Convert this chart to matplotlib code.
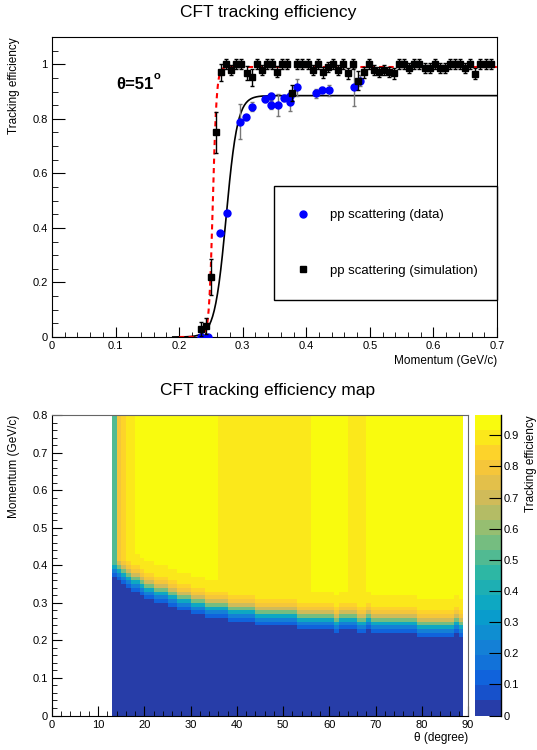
import numpy as np
import matplotlib
matplotlib.use('Agg')
import matplotlib.pyplot as plt
from matplotlib.colors import LinearSegmentedColormap, ListedColormap, BoundaryNorm
from matplotlib.lines import Line2D
from matplotlib.ticker import MultipleLocator, FormatStrFormatter

plt.rcParams['font.family'] = ['Liberation Sans', 'DejaVu Sans']

# ---------------- upper pad: efficiency vs momentum (theta = 51 deg)
sim_p = np.round(0.234 + 0.008 * np.arange(58), 3)
sim_eff = [0.03, 0.04, 0.22, 0.75, 0.97, 1.0, 0.98, 1.0, 1.0, 0.967,
           0.952, 1.0, 0.98, 1.0, 1.0, 0.973, 1.0, 1.0, 0.894, 1.0,
           1.0, 1.0, 0.98, 1.0, 0.97, 0.99, 1.0, 0.98, 1.0, 0.967,
           1.0, 0.94, 0.97, 1.0, 0.98, 0.973, 0.98, 0.973, 0.967, 1.0,
           1.0, 0.986, 1.0, 1.0, 0.986, 0.986, 1.0, 0.986, 0.986, 1.0,
           1.0, 1.0, 0.986, 1.0, 0.965, 1.0, 1.0, 1.0]
sim_err = [0.025, 0.03, 0.065, 0.075, 0.03, 0.018, 0.018, 0.018, 0.018, 0.025,
           0.03, 0.018, 0.018, 0.018, 0.018, 0.02, 0.018, 0.018, 0.03, 0.018,
           0.018, 0.018, 0.018, 0.018, 0.02, 0.018, 0.018, 0.018, 0.018, 0.02,
           0.018, 0.036, 0.02, 0.018, 0.018, 0.018, 0.018, 0.018, 0.02, 0.018,
           0.018, 0.018, 0.018, 0.018, 0.018, 0.018, 0.018, 0.018, 0.018, 0.018,
           0.018, 0.018, 0.018, 0.018, 0.02, 0.018, 0.018, 0.018]

data_p = [0.235, 0.245, 0.265, 0.275, 0.295, 0.305, 0.315, 0.335, 0.345, 0.345,
          0.355, 0.365, 0.375, 0.375, 0.385, 0.415, 0.425, 0.435, 0.475, 0.485]
data_eff = [0.0, 0.0, 0.38, 0.455, 0.79, 0.805, 0.845, 0.872, 0.882, 0.85,
            0.85, 0.877, 0.882, 0.862, 0.915, 0.893, 0.905, 0.905, 0.918, 0.94]
data_err = [0.0, 0.0, 0.0, 0.0, 0.063, 0.01, 0.018, 0.01, 0.012, 0.015,
            0.04, 0.01, 0.01, 0.035, 0.03, 0.015, 0.01, 0.02, 0.07, 0.02]

# fitted turn-on curves: plateau, midpoint, width
fit_data = (0.885, 0.274, 0.009)
fit_sim = (0.99, 0.253, 0.003)

# ---------------- lower pad: efficiency map (theta, momentum)
theta_edges = np.arange(13, 90)
mom_edges = np.linspace(0, 0.8, 81)
# momentum where the dark (zero) region ends, per 1-degree theta bin
edge_mom = [0.37, 0.36, 0.35, 0.34, 0.33, 0.33, 0.32, 0.31, 0.31, 0.30,
            0.30, 0.30, 0.29, 0.29, 0.28, 0.28, 0.28, 0.27, 0.27, 0.27,
            0.26, 0.26, 0.26, 0.26, 0.26, 0.25, 0.25, 0.25, 0.25, 0.25,
            0.25, 0.24, 0.24, 0.24, 0.24, 0.24, 0.24, 0.24, 0.24, 0.24,
            0.23, 0.23, 0.23, 0.23, 0.23, 0.23, 0.23, 0.23, 0.22, 0.23,
            0.23, 0.23, 0.23, 0.22, 0.22, 0.23, 0.22, 0.22, 0.22, 0.22,
            0.22, 0.22, 0.22, 0.22, 0.22, 0.22, 0.21, 0.21, 0.21, 0.21,
            0.21, 0.21, 0.21, 0.21, 0.22, 0.21]
plateau_from = [13, 14, 15, 16, 18, 36, 56, 64, 68]
plateau_eff = [0.50, 0.80, 0.85, 0.89, 0.95, 0.905, 0.95, 0.905, 0.95]
# efficiency in the momentum bins just above the dark region
turn_on = [0.12, 0.22, 0.38, 0.55, 0.72, 0.80, 0.86, 0.89, 0.905, 0.915]

eff_map = np.full((len(mom_edges) - 1, len(theta_edges) - 1), 0.01)
for c, th in enumerate(theta_edges[:-1]):
    plat = plateau_eff[np.searchsorted(plateau_from, th, side='right') - 1]
    for j in range(len(mom_edges) - 1):
        k = int(round((mom_edges[j] - edge_mom[c]) / 0.01))
        if k >= 0:
            eff_map[j, c] = min(turn_on[k] if k < len(turn_on) else plat, plat)

# ROOT kBird palette, 20 contours
stops = [0, .125, .25, .375, .5, .625, .75, .875, 1]
red = [0.2082, 0.0592, 0.0780, 0.0232, 0.1802, 0.5301, 0.8186, 0.9956, 0.9764]
green = [0.1664, 0.3599, 0.5041, 0.6419, 0.7178, 0.7492, 0.7328, 0.7862, 0.9832]
blue = [0.5293, 0.8684, 0.8385, 0.7914, 0.6425, 0.4662, 0.3499, 0.1968, 0.0539]
bird = LinearSegmentedColormap.from_list('kBird', list(zip(stops, zip(red, green, blue))))
ncont = 20
zmax = 0.965
cmap = ListedColormap([bird((i + 0.99) / ncont) for i in range(ncont)])
norm = BoundaryNorm(np.linspace(0, zmax, ncont + 1), ncont)

W, H = 537, 750
fig = plt.figure(figsize=(W / 100, H / 100), dpi=100)

def box(x0, y0, x1, y1):
    return [x0 / W, 1 - y1 / H, (x1 - x0) / W, (y1 - y0) / H]

# ---------- top
ax = fig.add_axes(box(52, 37, 497, 337))
pp = np.linspace(0.19, 0.7, 400)
ax.plot(pp, fit_data[0] / (1 + np.exp(-(pp - fit_data[1]) / fit_data[2])), color='k', lw=1.2, zorder=2)
pp = np.linspace(0.2, 0.7, 400)
ax.plot(pp, fit_sim[0] / (1 + np.exp(-(pp - fit_sim[1]) / fit_sim[2])), color='red', lw=1.5,
        ls=(0, (2.5, 2)), zorder=2)
ax.errorbar(data_p, data_eff, yerr=data_err, fmt='o', ms=5, mfc='#0000ff', mec='#0000ff',
            ecolor='#777777', elinewidth=1, capsize=1.5, capthick=1, zorder=3)
ax.errorbar(sim_p, sim_eff, yerr=sim_err, fmt='s', ms=4.5, mfc='k', mec='k',
            ecolor='k', elinewidth=1, capsize=1.5, capthick=1, zorder=4)
ax.set_xlim(0, 0.7)
ax.set_ylim(0, 1.1)
ax.xaxis.set_major_locator(MultipleLocator(0.1))
ax.xaxis.set_minor_locator(MultipleLocator(0.02))
ax.yaxis.set_major_locator(MultipleLocator(0.2))
ax.yaxis.set_minor_locator(MultipleLocator(0.05))
ax.xaxis.set_major_formatter(FormatStrFormatter('%g'))
ax.yaxis.set_major_formatter(FormatStrFormatter('%g'))
ax.tick_params(which='both', direction='in', labelsize=8, top=False, right=False)
ax.tick_params(axis='x', which='major', length=7, pad=3)
ax.tick_params(axis='x', which='minor', length=3.5)
ax.tick_params(axis='y', which='major', length=9, pad=3)
ax.tick_params(axis='y', which='minor', length=4.5)
ax.set_xlabel('Momentum (GeV/c)', fontsize=8.5, ha='right', va='top')
ax.xaxis.set_label_coords(1.0, -0.06)
ax.set_ylabel('Tracking efficiency', fontsize=8.5, ha='right')
ax.yaxis.set_label_coords(-0.072, 1.0)
ax.text(0.101, 0.925, 'θ=51', fontsize=12, fontweight='bold', va='center')
ax.text(0.1595, 0.958, 'o', fontsize=8, fontweight='bold', va='center')

handles = [Line2D([], [], ls='none', marker='o', ms=5, mfc='#0000ff', mec='#0000ff'),
           Line2D([], [], ls='none', marker='s', ms=4.5, mfc='k', mec='k')]
leg = ax.legend(handles, ['pp scattering (data)', 'pp scattering (simulation)'],
                loc='lower left', bbox_to_anchor=(0.499, 0.123, 0.501, 0.377), mode='expand',
                borderaxespad=0, fontsize=9.5, fancybox=False, framealpha=1, edgecolor='k',
                borderpad=1.75, labelspacing=3.3, handlelength=0.9, handletextpad=1.6)
leg.get_frame().set_linewidth(1)
fig.text(268 / W, 1 - 13 / H, 'CFT tracking efficiency', fontsize=12.5, ha='center', va='center')

# ---------- bottom
ax2 = fig.add_axes(box(52, 415, 468, 715.5))
mesh = ax2.pcolormesh(theta_edges, mom_edges, eff_map, cmap=cmap, norm=norm)
ax2.set_xlim(0, 90)
ax2.set_ylim(0, 0.8)
ax2.xaxis.set_major_locator(MultipleLocator(10))
ax2.xaxis.set_minor_locator(MultipleLocator(2))
ax2.yaxis.set_major_locator(MultipleLocator(0.1))
ax2.yaxis.set_minor_locator(MultipleLocator(0.02))
ax2.xaxis.set_major_formatter(FormatStrFormatter('%g'))
ax2.yaxis.set_major_formatter(FormatStrFormatter('%g'))
ax2.tick_params(which='both', direction='in', labelsize=8, top=False, right=False, color='k')
ax2.tick_params(which='major', length=7, pad=3)
ax2.tick_params(which='minor', length=3.5)
for s in ('top', 'right'):
    ax2.spines[s].set_color('#666666')
ax2.set_xlabel('θ (degree)', fontsize=8.5, ha='right', va='top')
ax2.xaxis.set_label_coords(1.0, -0.054)
ax2.set_ylabel('Momentum (GeV/c)', fontsize=8.5, ha='right')
ax2.yaxis.set_label_coords(-0.077, 1.0)
fig.text(268 / W, 1 - 390 / H, 'CFT tracking efficiency map', fontsize=12.5, ha='center', va='center')

cax = fig.add_axes(box(475, 415, 501, 715.5))
cb = fig.colorbar(mesh, cax=cax, ticks=np.arange(0, 0.95, 0.1))
cb.outline.set_visible(False)
cax.plot([1, 1], [0, 1], color='k', lw=1, transform=cax.transAxes, clip_on=False)
cax.yaxis.set_major_formatter(FormatStrFormatter('%g'))
cax.tick_params(axis='y', direction='in', length=9, pad=2, labelsize=8, right=True, left=False)
cax.minorticks_off()
cax.set_ylabel('Tracking efficiency', fontsize=8.5, ha='right', rotation=90)
cax.yaxis.set_label_coords(1.92, 1.0)

fig.savefig('out.png', dpi=100)
